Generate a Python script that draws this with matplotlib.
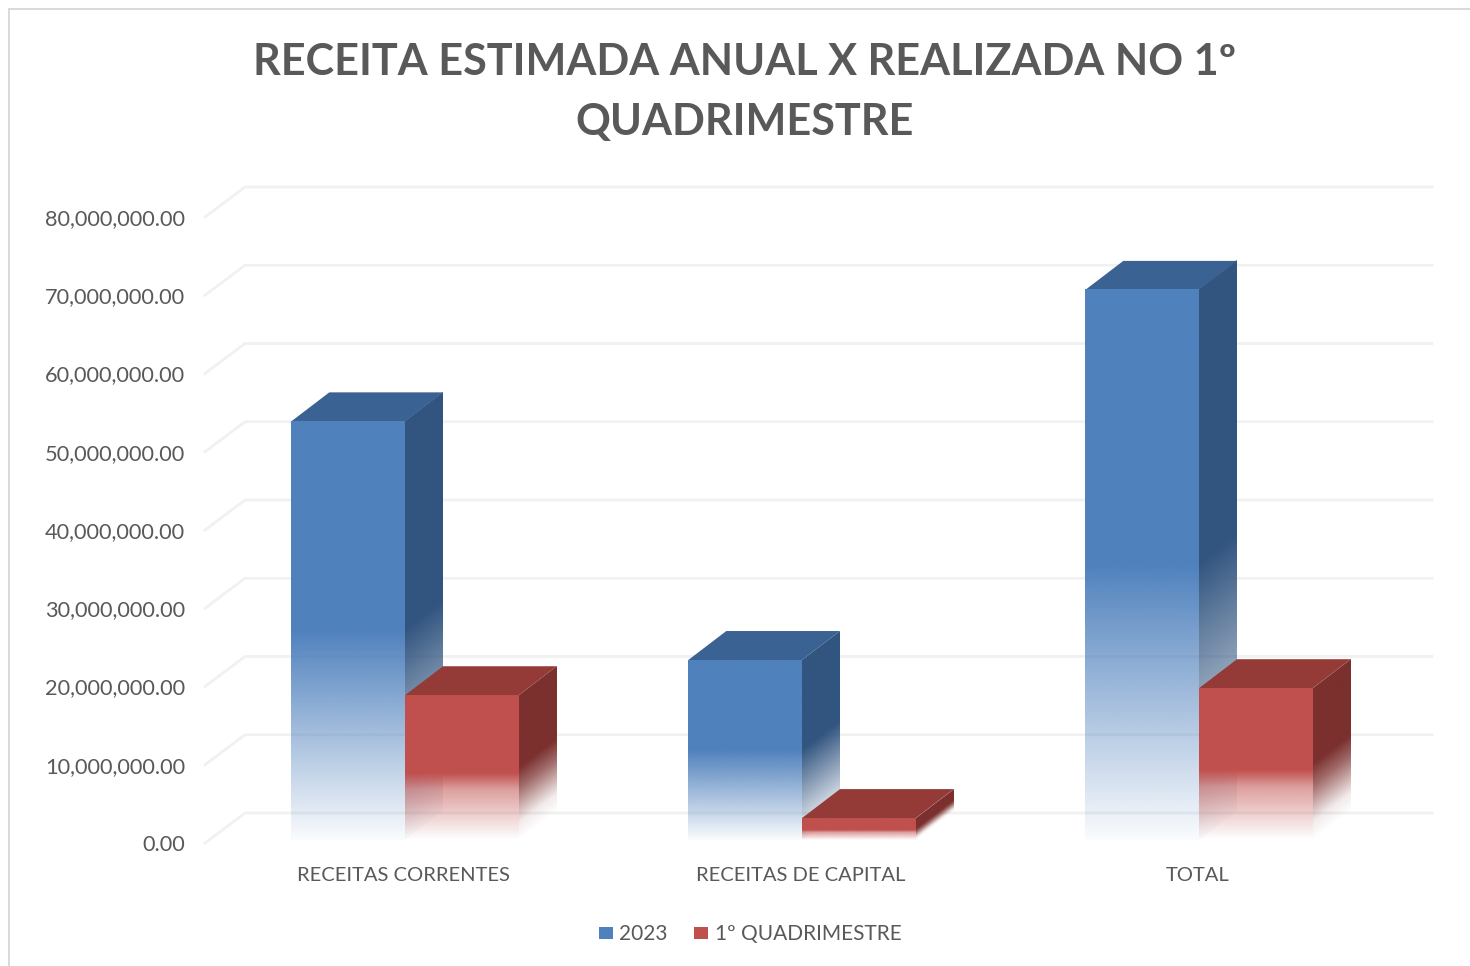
import numpy as np
import matplotlib
matplotlib.use("Agg")
import matplotlib.pyplot as plt
from matplotlib.colors import to_rgb
from matplotlib.patches import Patch, Polygon, Rectangle
from matplotlib.transforms import Affine2D

# Dados
categorias = ["RECEITAS CORRENTES", "RECEITAS DE CAPITAL", "TOTAL"]
valores_2023 = [53500000, 23000000, 70300000]
valores_quad = [18500000, 2800000, 19400000]
ticks_y = [0, 10000000, 20000000, 30000000, 40000000, 50000000, 60000000, 70000000, 80000000]
titulo = "RECEITA ESTIMADA ANUAL X REALIZADA NO 1º\nQUADRIMESTRE"
nomes_series = ["2023", "1º QUADRIMESTRE"]

W, H = 1470, 966
plt.rcParams["font.family"] = ["Lato", "DejaVu Sans"]
CINZA = "#595959"
GRADE = "#F1F1F1"

fig = plt.figure(figsize=(W / 100, H / 100), dpi=100, facecolor="white")
fig.add_artist(Rectangle((9 / W, -0.01), 1.01, 1 - 9 / H + 0.01, transform=fig.transFigure,
                         fill=False, edgecolor="#D9D9D9", linewidth=1.4))

ax = fig.add_axes([205 / W, 1 - 843 / H, (1396 - 205) / W, (843 - 217) / H])
ax.set_xlim(-0.5, 2.5)
ax.set_ylim(0, 80000000)
ax.patch.set_visible(False)
for s in ax.spines.values():
    s.set_visible(False)

# deslocamentos em pixels da perspectiva
PAREDE = (40, 30)
FRENTE = (1.5, 3)
FUNDO = (38, 29)
LARGURA = 0.2864

# grade: parede lateral e parede do fundo
for v in ticks_y:
    p0 = ax.transData.transform((-0.5, v))
    p1 = p0 + PAREDE
    p2 = ax.transData.transform((2.5, v)) + (PAREDE[0] - 4, PAREDE[1])
    xy = np.array([p0, p1, p2])
    ax.plot(xy[:, 0], xy[:, 1], transform=Affine2D(), color=GRADE, lw=2, zorder=1, clip_on=False)


def alfa_face(t, tipo):
    if tipo == "azul":
        return np.interp(t, [0, 0.5, 1], [0.03, 1, 1])
    if tipo == "vermelho":
        return np.interp(t, [0, 0.35, 0.46, 1], [0, 0.55, 1, 1])
    # lateral da barra vermelha
    return np.interp(t, [0, 0.12, 0.36, 0.5, 1], [0, 0.1, 0.72, 1, 1])


def face(origem, u, v, cor, tipo, z):
    t = np.linspace(0, 1, 256)
    arr = np.ones((256, 2, 4))
    arr[..., :3] = to_rgb(cor)
    arr[:, :, 3] = alfa_face(t, tipo)[:, None]
    tr = Affine2D.from_values(u[0], u[1], v[0], v[1], origem[0], origem[1])
    ax.imshow(arr, extent=(0, 1, 0, 1), origin="lower", aspect="auto", interpolation="bilinear",
              transform=tr, zorder=z, clip_on=False)


def barra(x0, valor, frente, lado, topo, tipo, tipo_lado, z):
    base = ax.transData.transform((x0, 0)) + FRENTE
    alto = ax.transData.transform((x0, valor)) + FRENTE
    dir_ = ax.transData.transform((x0 + LARGURA, 0)) + FRENTE
    u = dir_ - base
    v = alto - base
    face(dir_, FUNDO, v, lado, tipo_lado, z)
    face(base, u, v, frente, tipo, z + 0.2)
    a = alto
    b = alto + u
    ax.add_patch(Polygon([a, b, b + FUNDO, a + np.array(FUNDO)], closed=True, transform=Affine2D(),
                         facecolor=topo, edgecolor="none", zorder=z + 0.1, clip_on=False))


for i in range(len(categorias)):
    barra(i - LARGURA, valores_2023[i], "#4F81BD", "#325580", "#3A6292", "azul", "azul", 3 + i)
    barra(i, valores_quad[i], "#C0504D", "#7B302E", "#943B38", "vermelho", "lateral", 3.5 + i)

ax.set_xlim(-0.5, 2.5)
ax.set_ylim(0, 80000000)
ax.set_aspect("auto")

ax.set_yticks(ticks_y)
ax.set_yticklabels([f"{v:,.2f}" for v in ticks_y], fontsize=15.7, color=CINZA)
ax.set_xticks(range(len(categorias)))
ax.set_xticklabels(categorias, fontsize=14.5, color=CINZA)
ax.tick_params(axis="y", length=0, pad=14.5)
ax.tick_params(axis="x", length=0, pad=17.5)

fig.text(745 / W, 1 - 92 / H, titulo, ha="center", va="center", fontsize=31.1, fontweight="bold",
         color=CINZA, linespacing=1.58)

fig.legend(handles=[Patch(facecolor="#4F81BD", label=nomes_series[0]),
                    Patch(facecolor="#C0504D", label=nomes_series[1])],
           loc="center", bbox_to_anchor=(750 / W, 1 - 934 / H), ncol=2, frameon=False,
           fontsize=15, labelcolor=CINZA, handlelength=0.7, handleheight=0.5,
           handletextpad=0.3, columnspacing=1.25)

fig.savefig("out.png", dpi=100)
